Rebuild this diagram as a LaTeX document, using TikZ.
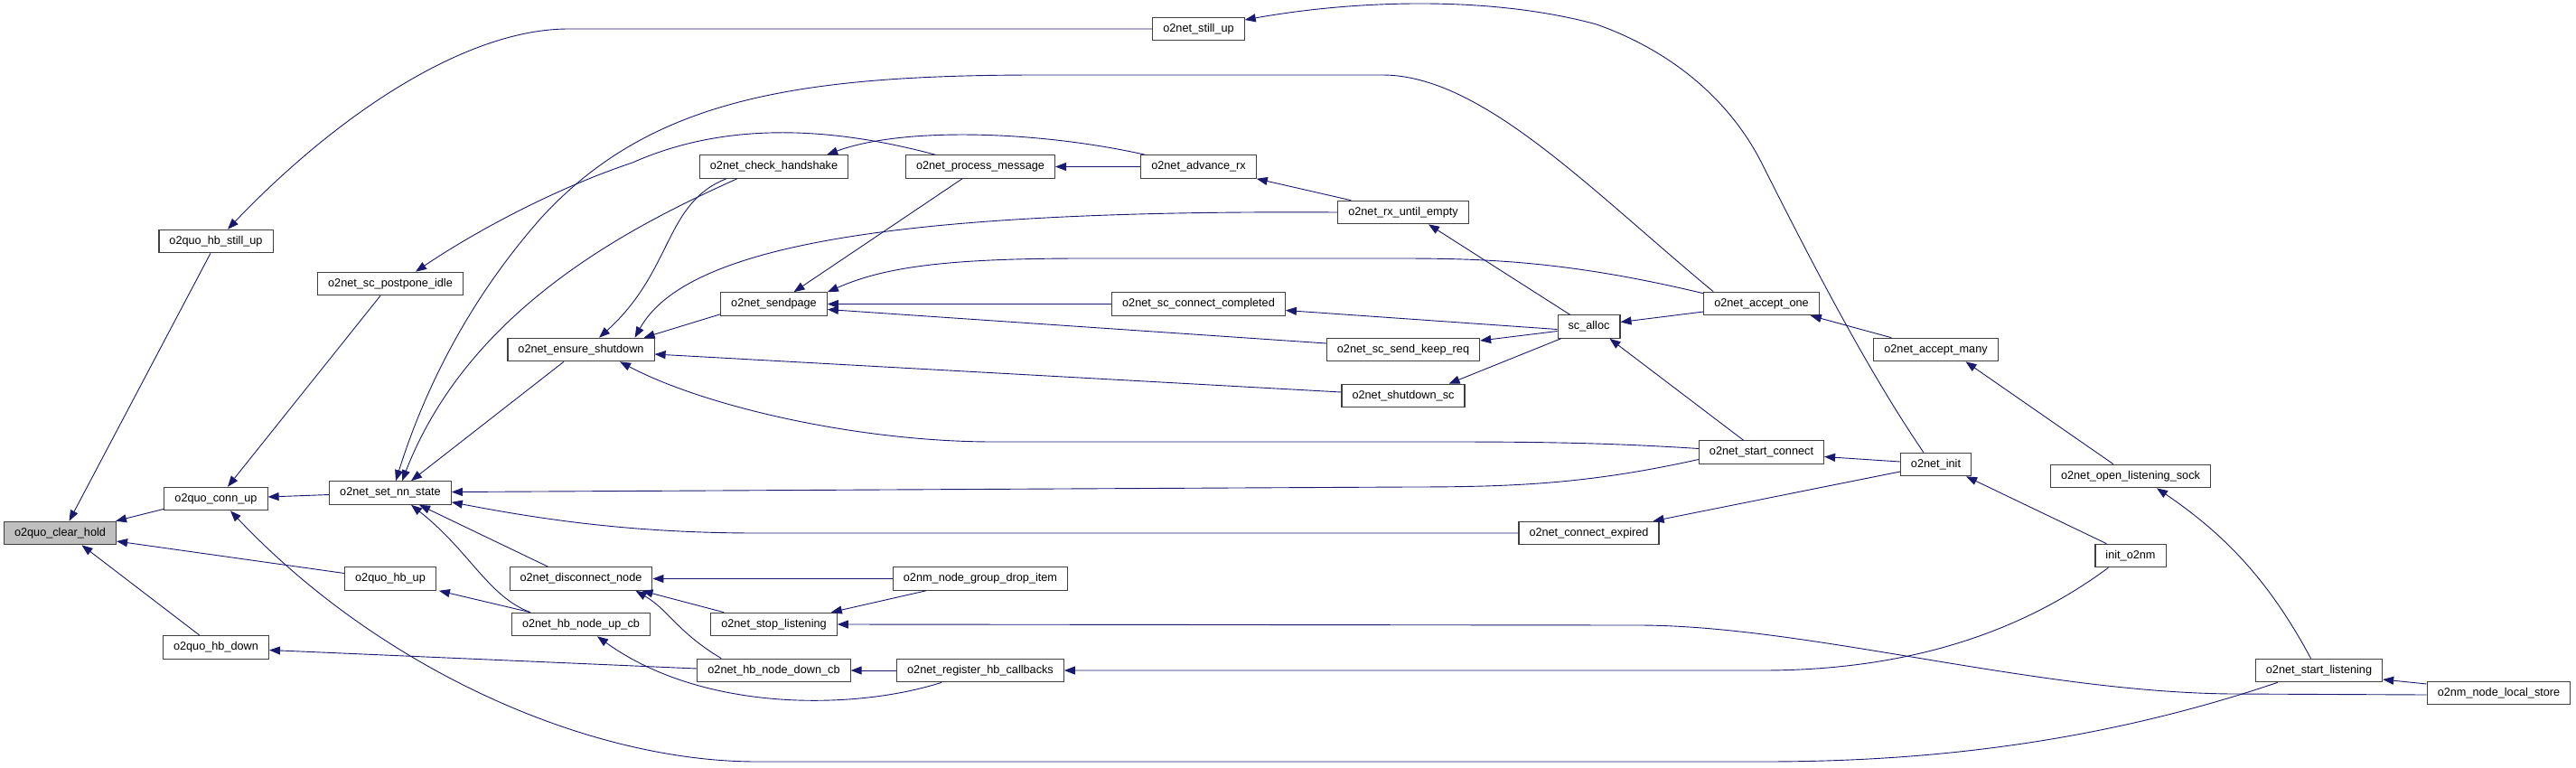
\documentclass[tikz,border=0pt]{standalone}
\usepackage{fontspec}
\setmainfont{Liberation Sans}
\usetikzlibrary{arrows.meta}
\definecolor{callblue}{RGB}{25,25,112}
\definecolor{rootgray}{RGB}{191,191,191}
\newcommand{\fnfont}{\fontsize{12.7pt}{15pt}\selectfont}
\tikzset{
  fnbox/.style={draw=black!75, line width=1.1pt, fill=white, inner xsep=11.5pt, inner ysep=0pt, minimum height=25.5pt, font=\fnfont},
  rootbox/.style={fnbox, fill=rootgray},
  call/.style={-{Triangle[length=12pt,width=9pt]}, draw=callblue, fill=none, line width=0.9pt}
}

\begin{document}
\begin{tikzpicture}[>=Triangle, x=100pt, y=100pt]
  \useasboundingbox[fill=white] (0,0) rectangle (28.51,-8.49);
  % functions, column by column
  \node[rootbox] (clearhold) at (0.665,-5.90) {o2quo\_clear\_hold};
  \node[fnbox] (hbstillup) at (2.39,-2.67) {o2quo\_hb\_still\_up};
  \node[fnbox] (connup) at (2.39,-5.52) {o2quo\_conn\_up};
  \node[fnbox] (hbdown) at (2.39,-7.165) {o2quo\_hb\_down};
  \node[fnbox] (postponeidle) at (4.32,-3.14) {o2net\_sc\_postpone\_idle};
  \node[fnbox] (setnnstate) at (4.32,-5.455) {o2net\_set\_nn\_state};
  \node[fnbox] (hbup) at (4.32,-6.405) {o2quo\_hb\_up};
  \node[fnbox] (ensureshutdown) at (6.43,-3.87) {o2net\_ensure\_shutdown};
  \node[fnbox] (disconnectnode) at (6.43,-6.405) {o2net\_disconnect\_node};
  \node[fnbox] (hbnodeupcb) at (6.43,-6.91) {o2net\_hb\_node\_up\_cb};
  \node[fnbox] (checkhandshake) at (8.565,-1.845) {o2net\_check\_handshake};
  \node[fnbox] (sendpage) at (8.565,-3.365) {o2net\_sendpage};
  \node[fnbox] (stoplistening) at (8.565,-6.91) {o2net\_stop\_listening};
  \node[fnbox] (hbnodedowncb) at (8.565,-7.42) {o2net\_hb\_node\_down\_cb};
  \node[fnbox] (processmessage) at (10.85,-1.845) {o2net\_process\_message};
  \node[fnbox] (dropitem) at (10.85,-6.405) {o2nm\_node\_group\_drop\_item};
  \node[fnbox] (registerhb) at (10.85,-7.42) {o2net\_register\_hb\_callbacks};
  \node[fnbox] (stillup) at (13.265,-0.32) {o2net\_still\_up};
  \node[fnbox] (advancerx) at (13.265,-1.845) {o2net\_advance\_rx};
  \node[fnbox] (connectcompleted) at (13.265,-3.365) {o2net\_sc\_connect\_completed};
  \node[fnbox] (rxuntilempty) at (15.53,-2.35) {o2net\_rx\_until\_empty};
  \node[fnbox] (sendkeepreq) at (15.53,-3.87) {o2net\_sc\_send\_keep\_req};
  \node[fnbox] (shutdownsc) at (15.53,-4.38) {o2net\_shutdown\_sc};
  \node[fnbox] (scalloc) at (17.585,-3.615) {sc\_alloc};
  \node[fnbox] (connectexpired) at (17.585,-5.90) {o2net\_connect\_expired};
  \node[fnbox] (acceptone) at (19.495,-3.36) {o2net\_accept\_one};
  \node[fnbox] (startconnect) at (19.495,-5.005) {o2net\_start\_connect};
  \node[fnbox] (acceptmany) at (21.425,-3.87) {o2net\_accept\_many};
  \node[fnbox] (init) at (21.425,-5.14) {o2net\_init};
  \node[fnbox] (openlistening) at (23.58,-5.27) {o2net\_open\_listening\_sock};
  \node[fnbox] (inito2nm) at (23.58,-6.15) {init\_o2nm};
  \node[fnbox] (startlistening) at (25.665,-7.42) {o2net\_start\_listening};
  \node[fnbox] (localstore) at (27.655,-7.67) {o2nm\_node\_local\_store};

  % callers of o2quo_clear_hold
  \draw[call] ([xshift=-6pt]hbstillup.south) -- ([xshift=10pt]clearhold.north);
  \draw[call] ([yshift=2pt]connup.south west) -- ([xshift=-1pt]clearhold.north east);
  \draw[call] ([yshift=6pt]hbup.west) -- ([yshift=-9pt]clearhold.east);
  \draw[call] ([xshift=-18pt]hbdown.north) -- ([xshift=24pt]clearhold.south);
  % o2quo column
  \draw[call] (stillup.west) -- (6.29,-0.32) .. controls (5.20,-0.32) and (3.80,-1.20) .. ([xshift=13pt]hbstillup.north);
  \draw[call] ([xshift=-11pt]postponeidle.south) -- ([xshift=13pt]connup.north);
  \draw[call] ([yshift=-2pt]setnnstate.west) -- ([yshift=2pt]connup.east);
  \draw[call] ([xshift=25pt]startlistening.south west) .. controls (23.00,-8.30) and (21.00,-8.43) .. (19.51,-8.43)
    -- (8.38,-8.43) .. controls (6.50,-8.43) and (4.20,-7.40) .. ([xshift=16pt]connup.south);
  \draw[call] ([yshift=2pt]hbnodedowncb.west) -- ([yshift=-3pt]hbdown.east);
  \draw[call] ([xshift=21pt]hbnodeupcb.north west) -- ([xshift=3pt]hbup.south east);
  % o2net_set_nn_state
  \draw[call] ([xshift=-19pt]ensureshutdown.south) -- ([xshift=23pt]setnnstate.north);
  \draw[call] ([xshift=11pt]acceptone.north west) .. controls (17.60,-2.10) and (16.40,-0.83) .. (15.30,-0.83)
    -- (11.50,-0.83) .. controls (8.80,-0.83) and (7.20,-1.10) .. (6.00,-2.40)
    .. controls (5.20,-3.30) and (4.70,-4.30) .. ([xshift=6pt]setnnstate.north);
  \draw[call] ([xshift=42pt]checkhandshake.south west) .. controls (7.00,-2.50) and (5.20,-3.40) .. ([xshift=13pt]setnnstate.north);
  \draw[call] ([yshift=-8pt]startconnect.west) .. controls (17.60,-5.35) and (16.80,-5.39) .. (15.60,-5.39) -- ([yshift=1pt]setnnstate.east);
  \draw[call] (connectexpired.west) -- (8.38,-5.90) .. controls (7.00,-5.90) and (6.00,-5.75) .. ([yshift=3pt]setnnstate.south east);
  \draw[call] ([xshift=43pt]disconnectnode.north west) -- ([xshift=32pt]setnnstate.south);
  \draw[call] ([xshift=21pt]hbnodeupcb.north west) .. controls (5.40,-6.60) and (5.20,-6.10) .. ([xshift=23pt]setnnstate.south);
  % o2net_ensure_shutdown
  \draw[call] ([xshift=30pt]checkhandshake.south west) .. controls (7.35,-2.25) and (7.45,-3.00) .. ([xshift=20pt]ensureshutdown.north);
  \draw[call] ([yshift=2pt]sendpage.south west) -- ([xshift=-12pt]ensureshutdown.north east);
  \draw[call] (rxuntilempty.west) .. controls (10.00,-2.32) and (7.60,-2.70) .. ([xshift=-22pt]ensureshutdown.north east);
  \draw[call] ([yshift=4pt]shutdownsc.west) -- ([yshift=-5pt]ensureshutdown.east);
  \draw[call] ([yshift=4pt]startconnect.west) .. controls (17.80,-4.90) and (17.00,-4.89) .. (16.00,-4.89)
    -- (11.00,-4.89) .. controls (9.50,-4.89) and (7.80,-4.50) .. ([xshift=43pt]ensureshutdown.south);
  \draw[call] ([xshift=-20pt]processmessage.north west) ++(0.53,0) .. controls (9.00,-1.35) and (7.90,-1.40) .. (7.00,-1.80)
    .. controls (6.10,-2.10) and (5.20,-2.60) .. ([xshift=28pt]postponeidle.north);
  % o2net_disconnect_node and friends
  \draw[call] (dropitem.west) -- (disconnectnode.east);
  \draw[call] ([xshift=15pt]stoplistening.north west) -- ([xshift=-12pt]disconnectnode.south east);
  \draw[call] ([xshift=27pt]hbnodedowncb.north west) .. controls (7.50,-7.00) and (7.40,-6.75) .. ([xshift=-19pt]disconnectnode.south east);
  \draw[call] ([xshift=37pt]dropitem.south west) -- ([xshift=-7pt]stoplistening.north east);
  \draw[call] ([yshift=-2pt]localstore.west) -- (24.70,-7.68) .. controls (22.50,-7.66) and (20.00,-6.92) .. (18.13,-6.92) -- (stoplistening.east);
  \draw[call] (registerhb.west) -- (hbnodedowncb.east);
  \draw[call] ([xshift=50pt]registerhb.south west) .. controls (9.50,-7.85) and (7.80,-7.90) .. ([xshift=18pt]hbnodeupcb.south);
  \draw[call] ([xshift=15pt]inito2nm.south west) .. controls (22.50,-6.90) and (21.30,-7.42) .. (19.50,-7.42) -- (registerhb.east);
  % o2net_sendpage
  \draw[call] ([xshift=-20pt]processmessage.south) -- ([xshift=22pt]sendpage.north);
  \draw[call] (connectcompleted.west) -- (sendpage.east);
  \draw[call] ([yshift=7pt]sendkeepreq.west) -- ([yshift=-6pt]sendpage.east);
  \draw[call] ([yshift=-2pt]acceptone.north west) .. controls (17.40,-2.90) and (16.50,-2.86) .. (15.50,-2.86)
    -- (12.00,-2.86) .. controls (10.50,-2.86) and (9.80,-2.95) .. (sendpage.north east);
  % o2net_advance_rx and neighbours
  \draw[call] (advancerx.west) -- (processmessage.east);
  \draw[call] ([xshift=5pt]advancerx.north west) .. controls (11.50,-1.45) and (10.00,-1.40) .. ([xshift=-24pt]checkhandshake.north east);
  \draw[call] ([xshift=15pt]rxuntilempty.north west) -- (advancerx.south east);
  % sc_alloc
  \draw[call] ([xshift=14pt]scalloc.north west) -- ([xshift=28pt]rxuntilempty.south);
  \draw[call] ([yshift=-3pt]scalloc.west) -- ([yshift=-7pt]connectcompleted.east);
  \draw[call] ([yshift=-5pt]scalloc.west) -- ([yshift=10pt]sendkeepreq.east);
  \draw[call] ([xshift=4pt]scalloc.south west) -- ([xshift=-18pt]shutdownsc.north east);
  \draw[call] ([yshift=-9pt]acceptone.west) -- ([yshift=5pt]scalloc.east);
  \draw[call] ([xshift=-20pt]startconnect.north) -- ([xshift=-12pt]scalloc.south east);
  % right part
  \draw[call] ([xshift=20pt]acceptmany.north west) -- ([xshift=-10pt]acceptone.south east);
  \draw[call] ([xshift=-19pt]openlistening.north) -- ([xshift=33pt]acceptmany.south);
  \draw[call] ([xshift=-9pt]startlistening.north) .. controls (25.10,-6.40) and (24.60,-5.90) .. ([xshift=29pt]openlistening.south);
  \draw[call] ([yshift=10pt]localstore.west) -- ([yshift=-10pt]startlistening.east);
  \draw[call] ([xshift=13pt]inito2nm.north west) -- ([xshift=-6pt]init.south east);
  \draw[call] ([yshift=3pt]init.west) -- ([yshift=-5pt]startconnect.east);
  \draw[call] ([yshift=-8pt]init.west) -- ([xshift=-7pt]connectexpired.north east);
  \draw[call] ([xshift=26pt]init.north west) .. controls (20.60,-4.00) and (19.90,-2.60) .. (19.51,-1.83)
    .. controls (19.20,-1.20) and (18.60,-0.60) .. (17.67,-0.27)
    .. controls (16.50,0.05) and (15.00,0) .. ([yshift=10pt]stillup.east);
\end{tikzpicture}
\end{document}
